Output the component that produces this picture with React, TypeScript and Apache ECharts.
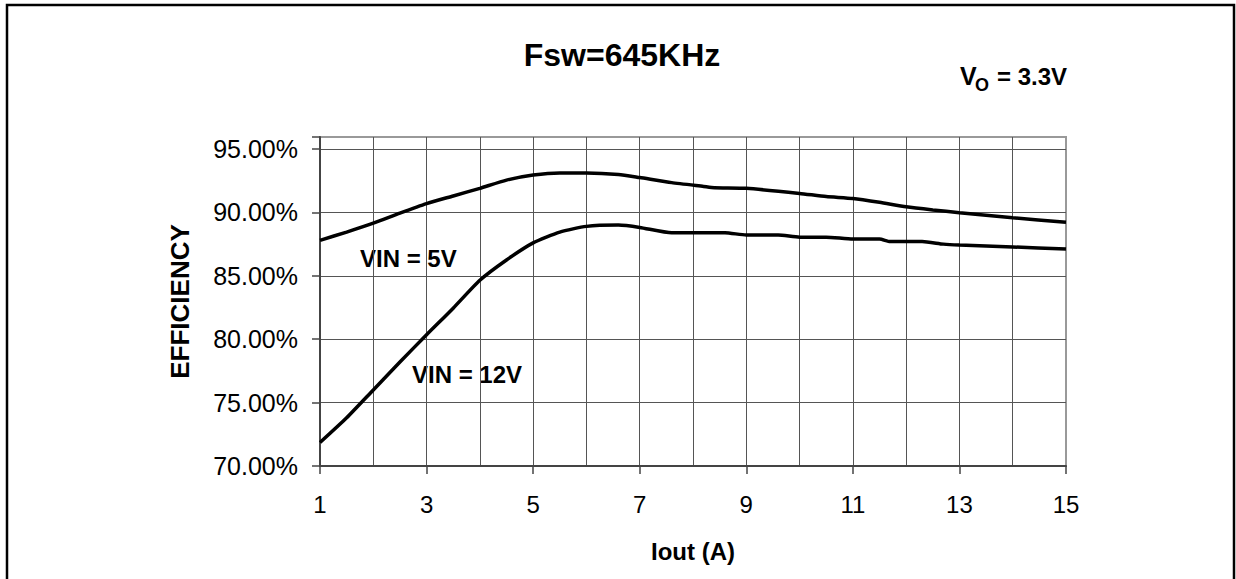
import React, { useEffect, useRef } from "react";
import * as echarts from "echarts";

const titleText = "Fsw=645KHz";
const xAxisName = "Iout (A)";
const yAxisName = "EFFICIENCY";
const xLabelValues = [1, 3, 5, 7, 9, 11, 13, 15];

const vin5Iout = [1, 1.5, 2, 2.5, 3, 3.5, 4, 4.5, 5, 5.5, 6, 6.6, 7, 7.6, 8.2, 8.4, 9, 10, 10.5, 11, 11.5, 12, 12.5, 13, 14, 15];
const vin5Eff = [87.8, 88.45, 89.15, 89.95, 90.7, 91.3, 91.9, 92.55, 92.95, 93.12, 93.12, 93.0, 92.75, 92.35, 92.05, 91.95, 91.9, 91.5, 91.25, 91.1, 90.8, 90.45, 90.2, 89.98, 89.58, 89.22];

const vin12Iout = [1, 1.5, 2, 2.5, 3, 3.5, 4, 4.5, 5, 5.5, 6, 6.6, 7, 7.6, 8.6, 9, 9.6, 10, 10.5, 11, 11.5, 11.7, 12.3, 12.7, 13, 14, 15];
const vin12Eff = [71.85, 73.8, 76.0, 78.2, 80.35, 82.45, 84.65, 86.25, 87.6, 88.45, 88.9, 89.0, 88.82, 88.4, 88.4, 88.22, 88.22, 88.05, 88.05, 87.9, 87.9, 87.7, 87.7, 87.5, 87.43, 87.28, 87.11];

const FONT = '"Liberation Sans", Arial, sans-serif';

export default function App() {
  const ref = useRef<HTMLDivElement>(null);
  useEffect(() => {
    document.body.style.margin = "0";
    const chart = echarts.init(ref.current!, null, { renderer: "svg" });
    const pair = (xs: number[], ys: number[]) => xs.map((x, i) => [x, ys[i]]);
    chart.setOption({
      animation: false,
      backgroundColor: "#ffffff",
      grid: {
        left: 320,
        right: 170,
        top: 137,
        bottom: 113,
        show: true,
        borderColor: "#999999",
        borderWidth: 2,
        backgroundColor: "transparent",
      },
      xAxis: [
        {
          type: "value",
          min: 1,
          max: 15,
          interval: 1,
          position: "bottom",
          name: xAxisName,
          nameLocation: "middle",
          nameGap: 73,
          nameTextStyle: { fontFamily: FONT, fontSize: 24, fontWeight: "bold", color: "#000" },
          axisLine: { show: true, lineStyle: { color: "#444", width: 2 } },
          axisTick: { show: false },
          axisLabel: {
            margin: 26,
            fontFamily: FONT,
            fontSize: 24,
            color: "#000",
            formatter: (v: number) => (xLabelValues.includes(v) ? String(v) : ""),
          },
          splitLine: { show: true, showMinLine: false, showMaxLine: false, lineStyle: { color: "#555", width: 1 } },
        },
        {
          type: "value",
          min: 1,
          max: 15,
          position: "bottom",
          axisLine: { show: false },
          axisTick: { show: true, customValues: xLabelValues, length: 8, lineStyle: { color: "#444", width: 1.5 } },
          axisLabel: { show: false },
          splitLine: { show: false },
        },
      ],
      yAxis: {
        type: "value",
        min: 70,
        max: 95.95,
        interval: 5,
        name: yAxisName,
        nameLocation: "middle",
        nameRotate: 90,
        nameGap: 127,
        nameTextStyle: { fontFamily: FONT, fontSize: 26, fontWeight: "bold", color: "#000" },
        axisLine: { show: true, lineStyle: { color: "#444", width: 2 } },
        axisTick: { show: true, length: 8, lineStyle: { color: "#444", width: 1.5 } },
        axisLabel: {
          margin: 22,
          fontFamily: FONT,
          fontSize: 25,
          color: "#000",
          formatter: (v: number) => (Math.abs(v % 5) < 1e-6 ? v.toFixed(2) + "%" : ""),
        },
        splitLine: { show: true, showMinLine: false, showMaxLine: false, lineStyle: { color: "#555", width: 1 } },
      },
      series: [
        {
          name: "VIN = 5V",
          type: "line",
          xAxisIndex: 0,
          data: pair(vin5Iout, vin5Eff),
          showSymbol: false,
          symbol: "none",
          smooth: 0.2,
          lineStyle: { color: "#000", width: 3.5 },
        },
        {
          name: "VIN = 12V",
          type: "line",
          xAxisIndex: 0,
          data: pair(vin12Iout, vin12Eff),
          showSymbol: false,
          symbol: "none",
          smooth: 0.2,
          lineStyle: { color: "#000", width: 3.5 },
        },
      ],
      graphic: [
        {
          type: "rect",
          shape: { x: 7, y: 5, width: 1227, height: 620 },
          style: { fill: "none", stroke: "#000", lineWidth: 2.5 },
          silent: true,
        },
        {
          type: "text",
          x: 622,
          y: 55,
          style: { text: titleText, align: "center", verticalAlign: "middle", fontFamily: FONT, fontSize: 32, fontWeight: "bold", fill: "#000" },
        },
        {
          type: "text",
          x: 960,
          y: 76,
          style: { text: "V", align: "left", verticalAlign: "middle", fontFamily: FONT, fontSize: 25, fontWeight: "bold", fill: "#000" },
        },
        {
          type: "text",
          x: 975,
          y: 84.5,
          style: { text: "O", align: "left", verticalAlign: "middle", fontFamily: FONT, fontSize: 18, fontWeight: "bold", fill: "#000" },
        },
        {
          type: "text",
          x: 997,
          y: 76,
          style: { text: "= 3.3V", align: "left", verticalAlign: "middle", fontFamily: FONT, fontSize: 24, fontWeight: "bold", fill: "#000" },
        },
        {
          type: "text",
          x: 360,
          y: 258.5,
          style: { text: "VIN = 5V", align: "left", verticalAlign: "middle", fontFamily: FONT, fontSize: 24, fontWeight: "bold", fill: "#000" },
        },
        {
          type: "text",
          x: 412,
          y: 374.5,
          style: { text: "VIN = 12V", align: "left", verticalAlign: "middle", fontFamily: FONT, fontSize: 24, fontWeight: "bold", fill: "#000" },
        },
      ],
    });
    return () => chart.dispose();
  }, []);
  return <div ref={ref} style={{ width: 1236, height: 579 }} />;
}
